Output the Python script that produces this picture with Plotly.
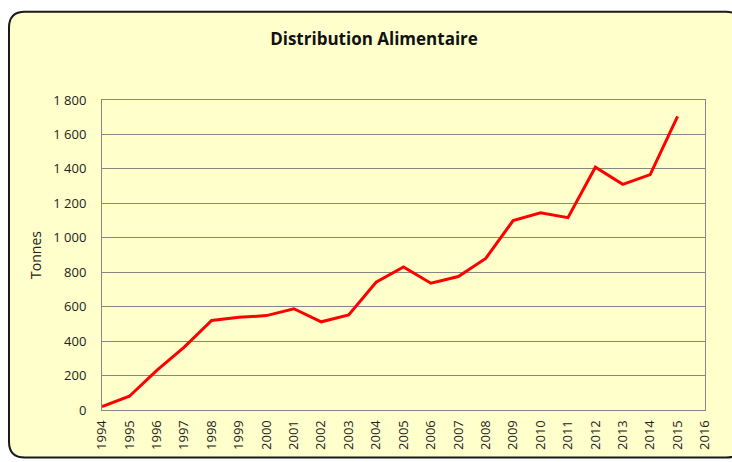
import plotly.graph_objects as go

years = list(range(1994, 2016))
tonnes = [20, 80, 230, 365, 520, 538, 548, 588, 512, 552, 742, 830, 736, 775, 880,
          1100, 1145, 1117, 1410, 1310, 1367, 1705]
x_ticks = list(range(1994, 2017))
y_ticks = [0, 200, 400, 600, 800, 1000, 1200, 1400, 1600, 1800]

W, H = 732, 462
L, T = 102, 100
R = W - 705
B = H - 413
pw, ph = W - L - R, H - T - B

def px(x):
    return (x - L) / pw

def py(y):
    return (H - B - y) / ph

# rounded chart-area border (pixel coords -> paper coords)
x0, x1, y0, y1, r = 9, 742, 11, 461, 16
path = (
    f"M {px(x0 + r)},{py(y0)} L {px(x1 - r)},{py(y0)} "
    f"Q {px(x1)},{py(y0)} {px(x1)},{py(y0 + r)} "
    f"L {px(x1)},{py(y1 - r)} Q {px(x1)},{py(y1)} {px(x1 - r)},{py(y1)} "
    f"L {px(x0 + r)},{py(y1)} Q {px(x0)},{py(y1)} {px(x0)},{py(y1 - r)} "
    f"L {px(x0)},{py(y0 + r)} Q {px(x0)},{py(y0)} {px(x0 + r)},{py(y0)} Z"
)

FONT = "Open Sans, Lato, sans-serif"

fig = go.Figure()
fig.add_trace(go.Scatter(
    x=years, y=tonnes, mode="lines",
    line=dict(color="#FF0000", width=3),
    showlegend=False,
))

fig.update_layout(
    width=W, height=H,
    margin=dict(l=L, r=R, t=T, b=B),
    paper_bgcolor="white",
    plot_bgcolor="rgba(0,0,0,0)",
    separators=", ",
    font=dict(family=FONT, color="#222222", size=13),
    title=dict(
        text="<b>Distribution Alimentaire</b>",
        x=374 / W, xref="container", xanchor="center",
        y=1 - 39 / H, yref="container", yanchor="middle",
        font=dict(size=17, color="#111111", family=FONT),
    ),
    shapes=[dict(
        type="path", path=path, xref="paper", yref="paper", layer="below",
        fillcolor="#FFFFCC", line=dict(color="#1a1a1a", width=2),
    )],
    xaxis=dict(
        range=[1994, 2016], tickvals=x_ticks, ticktext=[str(v) for v in x_ticks],
        tickangle=-90, showgrid=False, zeroline=False,
        showline=True, linecolor="#868686", linewidth=1, mirror=True,
        ticks="", tickfont=dict(size=13), ticklabelstandoff=4,
    ),
    yaxis=dict(
        range=[0, 1800], tickvals=y_ticks, tickformat=",d",
        showgrid=True, gridcolor="#868686", gridwidth=1, zeroline=False,
        showline=True, linecolor="#868686", linewidth=1, mirror=True,
        ticks="", tickfont=dict(size=13), ticklabelstandoff=12,
        title=dict(text="Tonnes", font=dict(size=14), standoff=8),
    ),
)

fig.write_html(
    "out.html",
    config={"displayModeBar": False},
    post_script="document.body.style.margin='0';document.body.style.overflow='hidden';",
)
